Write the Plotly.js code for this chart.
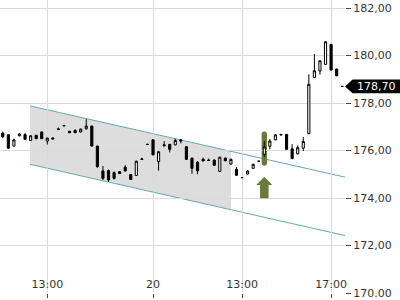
<!DOCTYPE html>
<html>
<head>
<meta charset="utf-8">
<script src="https://cdn.plot.ly/plotly-3.0.1.min.js"></script>
<style>html,body{margin:0;padding:0;background:#fff}#chart{width:400px;height:300px}</style>
</head>
<body>
<div id="chart"></div>
<script>
// ---- time slots (15-minute candles) ----
function session(day, h0, m0, h1, m1) {
  var out = [];
  for (var t = h0 * 60 + m0; t <= h1 * 60 + m1; t += 15) {
    var h = Math.floor(t / 60), m = t % 60;
    out.push(day + ' ' + (h < 10 ? '0' : '') + h + ':' + (m < 10 ? '0' : '') + m);
  }
  return out;
}
var times = session('19', 11, 0, 17, 30).concat(session('20', 9, 0, 17, 30));

// ---- OHLC values ----
var open  = [176.73,176.66,176.19,176.62,176.67,176.42,176.64,176.78,176.40,176.53,
             176.91,177.06,176.81,176.84,176.78,176.92,177.03,176.19,175.14,175.16,
             175.07,175.11,175.30,174.99,174.95,175.62,176.26,176.45,175.53,176.24,
             176.26,176.24,176.45,176.16,175.68,175.51,175.63,175.60,175.60,175.12,
             175.68,175.43,175.21,174.86,175.01,175.25,175.55,175.84,176.18,176.45,
             176.68,176.68,176.07,175.86,176.10,176.71,179.08,179.35,179.63,180.47,
             179.43,178.70];
var high  = [176.80,176.68,176.50,176.72,176.73,176.64,176.66,176.80,176.55,176.55,
             176.97,177.07,176.83,176.90,176.93,177.32,177.05,176.20,175.35,175.20,
             175.12,175.13,175.38,175.01,175.57,175.70,176.27,176.47,175.97,176.40,
             176.28,176.50,176.47,176.18,175.70,175.55,175.70,175.66,175.62,175.74,
             175.70,175.66,175.30,174.87,175.16,175.44,175.56,176.40,176.48,176.68,
             176.69,176.69,176.27,176.22,176.57,179.21,180.07,179.80,180.60,180.49,
             179.45,178.71];
var low   = [176.52,176.06,176.17,176.60,176.45,176.40,176.48,176.48,176.25,176.47,
             176.87,177.03,176.74,176.74,176.77,176.88,176.17,175.28,174.76,174.68,
             174.78,175.01,175.12,174.76,174.93,175.61,176.25,175.80,175.15,176.19,
             175.92,176.22,176.30,175.61,175.02,175.00,175.55,175.57,175.36,175.10,
             175.55,175.41,174.94,174.85,174.99,175.23,175.54,175.72,176.05,176.43,
             176.65,176.03,175.64,175.84,175.98,176.69,179.06,179.20,179.61,179.37,
             179.13,178.69];
var close = [176.58,176.10,176.45,176.70,176.47,176.62,176.50,176.50,176.52,176.49,
             176.89,177.04,176.75,176.75,176.90,177.03,176.19,175.32,174.83,174.76,
             174.83,175.03,175.14,174.78,175.55,175.64,176.26,175.82,175.95,176.20,
             176.05,176.42,176.40,175.63,175.25,175.14,175.56,175.58,175.38,175.72,
             175.57,175.63,174.96,174.86,175.14,175.42,175.55,176.15,176.40,176.66,
             176.66,176.05,175.66,176.12,176.38,178.79,179.36,179.78,180.58,179.39,
             179.15,178.70];

// ---- axes ----
var xTickTimes  = ['19 13:00', '20 09:00', '20 13:00', '20 17:00'];
var xTickLabels = ['13:00', '20', '13:00', '17:00'];
var yTickVals   = [170, 172, 174, 176, 178, 180, 182];
var yTickLabels = ['170.00', '172,00', '174,00', '176,00', '178,00', '180,00', '182,00'];
var yRange = [170, 182.34];

// ---- annotations (trend channel, signal candle, last price) ----
var channelX     = [4.9, 61.5];
var channelUpper = [177.88, 174.88];
var channelLower = [175.42, 172.42];
var zoneEndX     = 41;
var signalTime   = '20 14:00';
var signalRange  = [175.36, 176.80];
var arrowTip     = 174.90;
var arrowBase    = 173.99;
var lastPrice    = 178.70;
var lastPriceText = '178,70';

var idx = times.map(function (t, i) { return i; });
var tickIdx = xTickTimes.map(function (t) { return times.indexOf(t); });

function chAt(arr, x) {
  return arr[0] + (arr[1] - arr[0]) * (x - channelX[0]) / (channelX[1] - channelX[0]);
}

var teal = '#64a8b1';
var olive = '#6b7a39';
var shapes = [];

// grey zone inside channel
var zx0 = channelX[0], zx1 = zoneEndX;
shapes.push({
  type: 'path', xref: 'x', yref: 'y', layer: 'below',
  path: 'M' + zx0 + ',' + chAt(channelUpper, zx0) + ' L' + zx1 + ',' + chAt(channelUpper, zx1) +
        ' L' + zx1 + ',' + chAt(channelLower, zx1) + ' L' + zx0 + ',' + chAt(channelLower, zx0) + ' Z',
  fillcolor: '#dddddd', line: { width: 0 }
});
// channel lines
shapes.push({ type: 'line', xref: 'x', yref: 'y', layer: 'below',
  x0: channelX[0], y0: channelUpper[0], x1: channelX[1], y1: channelUpper[1],
  line: { color: teal, width: 1 } });
shapes.push({ type: 'line', xref: 'x', yref: 'y', layer: 'below',
  x0: channelX[0], y0: channelLower[0], x1: channelX[1], y1: channelLower[1],
  line: { color: teal, width: 1 } });

// signal candle highlight (pill)
var sx = times.indexOf(signalTime);
var hw = 0.48, ry = 0.11;
var xa = sx - hw, xb = sx + hw, yb = signalRange[0], yt = signalRange[1];
shapes.push({
  type: 'path', xref: 'x', yref: 'y', layer: 'below',
  path: 'M' + xa + ',' + (yb + ry) + ' L' + xa + ',' + (yt - ry) +
        ' Q' + xa + ',' + yt + ' ' + sx + ',' + yt + ' Q' + xb + ',' + yt + ' ' + xb + ',' + (yt - ry) +
        ' L' + xb + ',' + (yb + ry) + ' Q' + xb + ',' + yb + ' ' + sx + ',' + yb +
        ' Q' + xa + ',' + yb + ' ' + xa + ',' + (yb + ry) + ' Z',
  fillcolor: olive, line: { width: 0 }
});
// up arrow
var headW = 1.44, shaftW = 0.77, headBase = arrowTip - 0.35;
shapes.push({
  type: 'path', xref: 'x', yref: 'y', layer: 'above',
  path: 'M' + sx + ',' + arrowTip + ' L' + (sx + headW) + ',' + headBase + ' L' + (sx + shaftW) + ',' + headBase +
        ' L' + (sx + shaftW) + ',' + arrowBase + ' L' + (sx - shaftW) + ',' + arrowBase +
        ' L' + (sx - shaftW) + ',' + headBase + ' L' + (sx - headW) + ',' + headBase + ' Z',
  fillcolor: olive, line: { width: 0 }
});

// last price tag (paper coords)
function yp(v) { return (v - yRange[0]) / (yRange[1] - yRange[0]); }
var hh = 0.29;
shapes.push({
  type: 'path', xref: 'paper', yref: 'paper', layer: 'above',
  path: 'M1.0,' + yp(lastPrice) + ' L1.022,' + yp(lastPrice + hh) + ' L1.16,' + yp(lastPrice + hh) +
        ' L1.16,' + yp(lastPrice - hh) + ' L1.022,' + yp(lastPrice - hh) + ' Z',
  fillcolor: '#000', line: { width: 0 }
});

var trace = {
  type: 'candlestick',
  x: idx, open: open, high: high, low: low, close: close,
  whiskerwidth: 0,
  increasing: { line: { color: '#000', width: 1 }, fillcolor: '#ffffff' },
  decreasing: { line: { color: '#000', width: 1 }, fillcolor: '#000000' },
  hoverinfo: 'skip'
};

var layout = {
  width: 400, height: 300,
  margin: { l: 0, r: 55, t: 0, b: 7 },
  paper_bgcolor: '#fff', plot_bgcolor: '#fff',
  showlegend: false,
  boxgap: 0.45,
  font: { family: 'DejaVu Sans', size: 11, color: '#333' },
  xaxis: {
    type: 'linear', range: [-0.5, 61.5],
    rangeslider: { visible: false },
    tickvals: tickIdx, ticktext: xTickLabels,
    showgrid: true, gridcolor: '#dadada', gridwidth: 1,
    zeroline: false, showline: false,
    ticks: 'outside', ticklen: 4, tickcolor: '#444',
    ticklabelposition: 'inside',
    ticklabeloverflow: 'allow',
    tickfont: { family: 'DejaVu Sans', size: 11, color: '#333' },
    fixedrange: true
  },
  yaxis: {
    side: 'right', range: yRange,
    tickvals: yTickVals, ticktext: yTickLabels,
    showgrid: true, gridcolor: '#dadada', gridwidth: 1,
    zeroline: false, showline: false,
    ticks: 'outside', ticklen: 5, tickcolor: '#444',
    ticklabeloverflow: 'allow',
    tickfont: { family: 'DejaVu Sans', size: 11, color: '#333' },
    fixedrange: true
  },
  shapes: shapes,
  annotations: [{
    xref: 'paper', yref: 'paper', x: 1.03, y: yp(lastPrice),
    xanchor: 'left', yanchor: 'middle', showarrow: false,
    text: lastPriceText,
    font: { family: 'DejaVu Sans', size: 11, color: '#fff' }
  }]
};

Plotly.newPlot('chart', [trace], layout, { displayModeBar: false, staticPlot: true });
</script>
</body>
</html>
